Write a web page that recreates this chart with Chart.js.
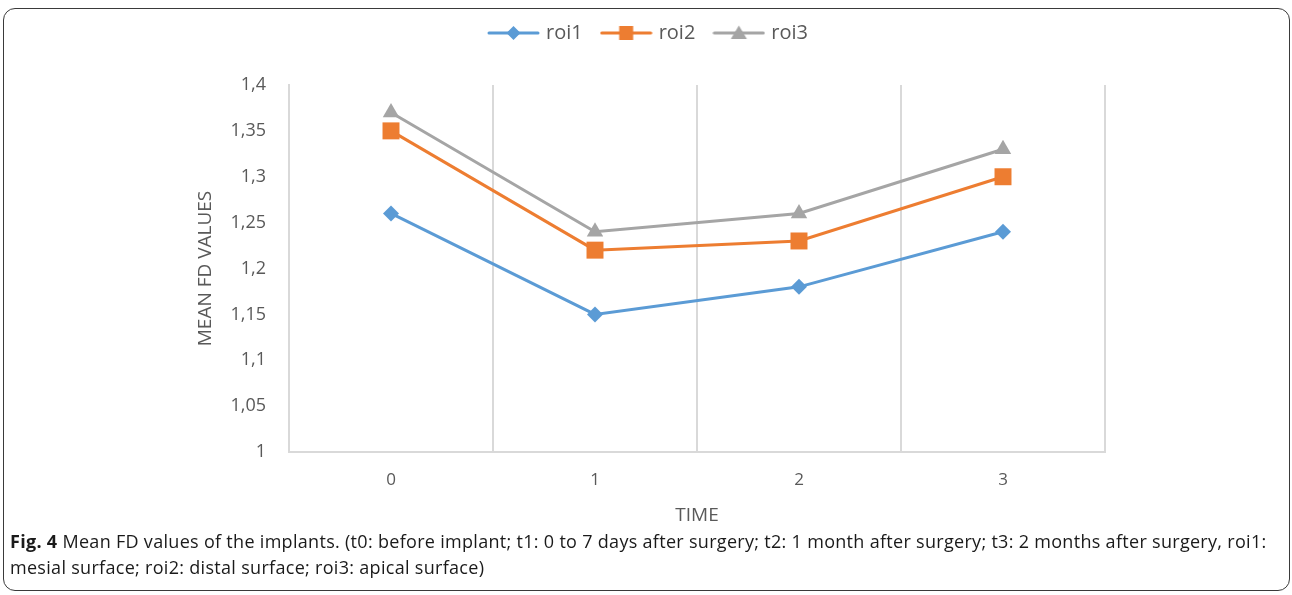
<!DOCTYPE html>
<html>
<head>
    <script src="https://cdn.jsdelivr.net/npm/chart.js@4.4.1/dist/chart.umd.min.js"></script>
    <style>
        body {
            margin: 0;
            background: #fff;
            font-family: "Open Sans", sans-serif;
        }

        #frame {
            position: absolute;
            left: 3px;
            top: 8px;
            width: 1285px;
            height: 581px;
            border: 1.5px solid #3a3a3a;
            border-radius: 12px;
        }

        #chartBox {
            position: absolute;
            left: 0;
            top: 0;
            width: 1292px;
            height: 530px;
        }

        #caption {
            position: absolute;
            left: 10px;
            top: 528px;
            font-family: "Open Sans", sans-serif;
            font-size: 18px;
            letter-spacing: 0.3px;
            line-height: 26px;
            white-space: nowrap;
            color: #1a1a1a;
        }
    </style>
</head>
<body>
<div id="frame"></div>
<div id="chartBox">
    <canvas id="myChart"></canvas>
</div>
<div id="caption">
    <b>Fig. 4</b> Mean FD values of the implants. (t0: before implant; t1: 0 to 7 days after surgery; t2: 1 month after surgery; t3: 2 months after surgery, roi1:<br>
    mesial surface; roi2: distal surface; roi3: apical surface)
</div>

<script>
    const timeLabels = ['0', '1', '2', '3'];
    const roi1 = [1.26, 1.15, 1.18, 1.24];
    const roi2 = [1.35, 1.22, 1.23, 1.30];
    const roi3 = [1.37, 1.24, 1.26, 1.33];
    const yMin = 1, yMax = 1.4, yStep = 0.05;

    const colors = ['#5B9BD5', '#ED7D31', '#A5A5A5'];
    const styles = ['rectRot', 'rect', 'triangle'];
    const radii = [8, 12, 9.5];

    // small line + marker picture for the legend, like in excel
    function legendIcon(color, style) {
        const c = document.createElement('canvas');
        c.width = 53;
        c.height = 18;
        const g = c.getContext('2d');
        g.strokeStyle = color;
        g.fillStyle = color;
        g.lineWidth = 3;
        g.lineCap = 'round';
        g.beginPath();
        g.moveTo(2, 9);
        g.lineTo(51, 9);
        g.stroke();
        g.beginPath();
        if (style === 'rectRot') {
            g.moveTo(26.5, 2); g.lineTo(33.5, 9); g.lineTo(26.5, 16); g.lineTo(19.5, 9);
        } else if (style === 'rect') {
            g.rect(19.5, 2, 14, 14);
        } else {
            g.moveTo(26.5, 1.5); g.lineTo(34.5, 15); g.lineTo(18.5, 15);
        }
        g.closePath();
        g.fill();
        return c;
    }

    const icons = colors.map((c, i) => legendIcon(c, styles[i]));

    function makeSet(label, data, i) {
        return {
            label: label,
            data: data,
            borderColor: colors[i],
            backgroundColor: colors[i],
            borderWidth: 3,
            pointStyle: styles[i],
            pointRadius: radii[i],
            pointHoverRadius: radii[i],
            pointBorderWidth: 0,
            tension: 0
        };
    }

    const legendGap = {
        id: 'legendGap',
        beforeInit(chart) {
            const fit = chart.legend.fit;
            chart.legend.fit = function () {
                fit.call(this);
                this.height += 32;
            };
        }
    };

    const ctx = document.getElementById('myChart').getContext('2d');
    const myChart = new Chart(ctx, {
        type: 'line',
        data: {
            labels: timeLabels,
            datasets: [
                makeSet('roi1', roi1, 0),
                makeSet('roi2', roi2, 1),
                makeSet('roi3', roi3, 2)
            ]
        },
        plugins: [legendGap],
        options: {
            responsive: true,
            maintainAspectRatio: false,
            animation: false,
            layout: {
                padding: {left: 194, right: 187, top: 2, bottom: 0}
            },
            plugins: {
                legend: {
                    display: true,
                    labels: {
                        usePointStyle: true,
                        pointStyleWidth: 45,
                        padding: 21,
                        color: '#595959',
                        font: {family: 'Open Sans', size: 20},
                        generateLabels: chart => chart.data.datasets.map((ds, i) => ({
                            text: ds.label,
                            pointStyle: icons[i],
                            fillStyle: colors[i],
                            strokeStyle: colors[i],
                            lineWidth: 0,
                            fontColor: '#595959',
                            datasetIndex: i
                        }))
                    }
                },
                tooltip: {enabled: false}
            },
            scales: {
                x: {
                    offset: true,
                    grid: {
                        offset: true,
                        color: '#d9d9d9',
                        lineWidth: 2,
                        drawTicks: false
                    },
                    border: {color: '#d9d9d9', width: 2},
                    ticks: {
                        padding: 18,
                        color: '#595959',
                        font: {family: 'Open Sans', size: 17}
                    },
                    title: {
                        display: true,
                        text: 'TIME',
                        color: '#595959',
                        font: {family: 'Open Sans', size: 19},
                        padding: {top: 0, bottom: 3}
                    },
                    afterFit(scale) {
                        scale.height = 78;
                    }
                },
                y: {
                    min: yMin,
                    max: yMax,
                    grid: {display: false, drawTicks: false},
                    border: {color: '#d9d9d9', width: 2},
                    ticks: {
                        stepSize: yStep,
                        padding: 23,
                        color: '#595959',
                        font: {family: 'Open Sans', size: 18},
                        callback: v => String(Number(v.toFixed(2))).replace('.', ',')
                    },
                    title: {
                        display: true,
                        text: 'MEAN FD VALUES',
                        color: '#595959',
                        font: {family: 'Open Sans', size: 19},
                        padding: {top: 0, bottom: 0}
                    },
                    afterFit(scale) {
                        scale.width = 95;
                    }
                }
            }
        }
    });
</script>
</body>
</html>
